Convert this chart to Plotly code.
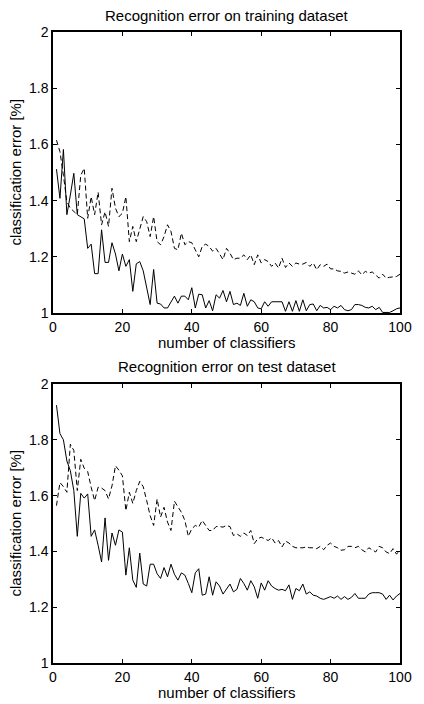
import plotly.graph_objects as go

n_classifiers = list(range(1, 101))

train_solid = [1.512, 1.408, 1.582, 1.35, 1.42, 1.497, 1.35, 1.343, 1.335, 1.23,
               1.245, 1.14, 1.14, 1.296, 1.18, 1.18, 1.25, 1.21, 1.15, 1.21,
               1.166, 1.19, 1.077, 1.175, 1.183, 1.15, 1.09, 1.03, 1.155, 1.035,
               1.032, 1.018, 1.018, 1.04, 1.06, 1.035, 1.06, 1.06, 1.047, 1.09,
               1.018, 1.067, 1.065, 1.018, 1.044, 1.008, 1.065, 1.053, 1.08, 1.04,
               1.077, 1.03, 1.035, 1.027, 1.07, 1.024, 1.047, 1.04, 1.018, 1.015,
               1.04, 1.024, 1.04, 1.04, 1.04, 1.04, 1.006, 1.04, 1.006, 1.044,
               1.006, 1.047, 1.008, 1.03, 1.032, 1.008, 1.027, 1.018, 1.02, 1.012,
               1.024, 1.018, 1.027, 1.012, 1.008, 1.012, 1.03, 1.03, 1.027, 1.02,
               1.018, 1.024, 1.012, 1.02, 1.002, 1.002, 1.002, 1.008, 1.015, 1.018]

train_dashed = [1.615, 1.574, 1.49, 1.396, 1.373, 1.36, 1.35, 1.49, 1.515, 1.337,
                1.414, 1.35, 1.43, 1.314, 1.36, 1.308, 1.444, 1.373, 1.343, 1.355,
                1.414, 1.254, 1.308, 1.254, 1.302, 1.343, 1.325, 1.272, 1.343, 1.254,
                1.243, 1.272, 1.314, 1.29, 1.23, 1.225, 1.284, 1.243, 1.254, 1.25,
                1.225, 1.2, 1.237, 1.245, 1.237, 1.22, 1.23, 1.21, 1.19, 1.23,
                1.213, 1.19, 1.195, 1.195, 1.207, 1.19, 1.207, 1.172, 1.207, 1.178,
                1.19, 1.183, 1.166, 1.178, 1.16, 1.195, 1.162, 1.178, 1.166, 1.178,
                1.174, 1.174, 1.18, 1.166, 1.178, 1.154, 1.172, 1.166, 1.174, 1.157,
                1.157, 1.15, 1.148, 1.142, 1.146, 1.142, 1.138, 1.15, 1.136, 1.148,
                1.142, 1.146, 1.136, 1.124, 1.138, 1.124, 1.127, 1.129, 1.13, 1.138]

test_solid = [1.924, 1.822, 1.80, 1.724, 1.689, 1.618, 1.454, 1.608, 1.591, 1.606,
              1.454, 1.477, 1.422, 1.362, 1.52, 1.368, 1.466, 1.422, 1.477, 1.469,
              1.315, 1.413, 1.297, 1.271, 1.394, 1.283, 1.276, 1.354, 1.354, 1.32,
              1.303, 1.342, 1.309, 1.354, 1.318, 1.297, 1.323, 1.315, 1.285, 1.252,
              1.323, 1.338, 1.243, 1.247, 1.309, 1.243, 1.291, 1.276, 1.247, 1.267,
              1.283, 1.255, 1.264, 1.303, 1.285, 1.261, 1.295, 1.273, 1.232, 1.287,
              1.261, 1.295, 1.276, 1.267, 1.261, 1.264, 1.259, 1.28, 1.228, 1.267,
              1.259, 1.283, 1.247, 1.255, 1.243, 1.24, 1.232, 1.228, 1.232, 1.238,
              1.232, 1.24, 1.228, 1.238, 1.228, 1.235, 1.249, 1.232, 1.232, 1.232,
              1.247, 1.252, 1.252, 1.252, 1.247, 1.228, 1.243, 1.226, 1.24, 1.249]

test_dashed = [1.564, 1.647, 1.632, 1.612, 1.784, 1.762, 1.618, 1.73, 1.698, 1.686,
               1.63, 1.582, 1.63, 1.627, 1.618, 1.588, 1.635, 1.707, 1.691, 1.671,
               1.546, 1.612, 1.572, 1.618, 1.651, 1.632, 1.582, 1.528, 1.493, 1.588,
               1.523, 1.558, 1.505, 1.475, 1.58, 1.558, 1.54, 1.511, 1.454, 1.481,
               1.493, 1.487, 1.511, 1.493, 1.475, 1.475, 1.489, 1.489, 1.487, 1.493,
               1.489, 1.457, 1.463, 1.454, 1.466, 1.457, 1.475, 1.428, 1.445, 1.451,
               1.445, 1.439, 1.449, 1.43, 1.439, 1.416, 1.437, 1.43, 1.418, 1.413,
               1.413, 1.413, 1.416, 1.413, 1.413, 1.41, 1.418, 1.406, 1.422, 1.43,
               1.418, 1.413, 1.404, 1.406, 1.418, 1.418, 1.413, 1.418, 1.406, 1.398,
               1.413, 1.404, 1.398, 1.418, 1.413, 1.398, 1.392, 1.41, 1.39, 1.406]

x_ticks = [0, 20, 40, 60, 80, 100]
y_ticks = [1, 1.2, 1.4, 1.6, 1.8, 2]
y_tick_labels = ["1", "1.2", "1.4", "1.6", "1.8", "2"]

titles = ["Recognition error on training dataset", "Recognition error on test dataset"]
x_label = "number of classifiers"
y_label = "classification error [%]"

FONT = "Liberation Sans, Arial, Helvetica, sans-serif"
FS = 15
TFS = 14

W, H = 424, 704
ML, MR, MT, MB = 53, 14, 32, 41
PW, PH = W - ML - MR, H - MT - MB


def py(px):
    return (H - MB - px) / PH


def pxx(px):
    return (px - ML) / PW


fig = go.Figure()
series = [(train_solid, train_dashed, "x", "y"), (test_solid, test_dashed, "x2", "y2")]
for solid, dashed, xa, ya in series:
    fig.add_trace(go.Scatter(x=n_classifiers, y=dashed, mode="lines", xaxis=xa, yaxis=ya,
                             line=dict(color="black", width=1, dash="5px,3px"),
                             showlegend=False, hoverinfo="skip"))
    fig.add_trace(go.Scatter(x=n_classifiers, y=solid, mode="lines", xaxis=xa, yaxis=ya,
                             line=dict(color="black", width=1),
                             showlegend=False, hoverinfo="skip"))

axis_common = dict(showline=True, linecolor="black", linewidth=1.5, mirror="ticks",
                   ticks="inside", ticklen=4, tickwidth=1, tickcolor="black",
                   showgrid=False, zeroline=False,
                   tickfont=dict(family=FONT, size=TFS, color="black"))

top_dom = [py(313), 1.0]
bot_dom = [0.0, py(384)]

fig.update_layout(
    width=W, height=H,
    margin=dict(l=ML, r=MR, t=MT, b=MB),
    paper_bgcolor="white", plot_bgcolor="white",
    font=dict(family=FONT, size=FS, color="black"),
    xaxis=dict(range=[0, 100], tickvals=x_ticks, domain=[0, 1], anchor="y", **axis_common),
    yaxis=dict(range=[1, 2], tickvals=y_ticks, ticktext=y_tick_labels, domain=top_dom,
               anchor="x", **axis_common),
    xaxis2=dict(range=[0, 100], tickvals=x_ticks, domain=[0, 1], anchor="y2", **axis_common),
    yaxis2=dict(range=[1, 2], tickvals=y_ticks, ticktext=y_tick_labels, domain=bot_dom,
                anchor="x2", **axis_common),
)

ann = [
    (titles[0], pxx(231.5), py(15), 0, "middle"),
    (titles[1], pxx(231.5), py(366), 0, "middle"),
    (x_label, pxx(231.5), py(352), 0, "bottom"),
    (x_label, pxx(231.5), py(702), 0, "bottom"),
    (y_label, pxx(14), py(172.5), -90, "middle"),
    (y_label, pxx(14), py(523.5), -90, "middle"),
]
for text, ax_, ay_, rot, yanc in ann:
    fig.add_annotation(text=text, x=ax_, y=ay_, xref="paper", yref="paper",
                       xanchor="center", yanchor=yanc, showarrow=False, textangle=rot,
                       borderpad=0,
                       font=dict(family=FONT, size=FS, color="black"))

fig.write_html(
    "out.html",
    config={"displayModeBar": False},
    post_script="document.body.style.margin='0';document.body.style.padding='0';"
                "document.body.style.overflow='hidden';",
)
